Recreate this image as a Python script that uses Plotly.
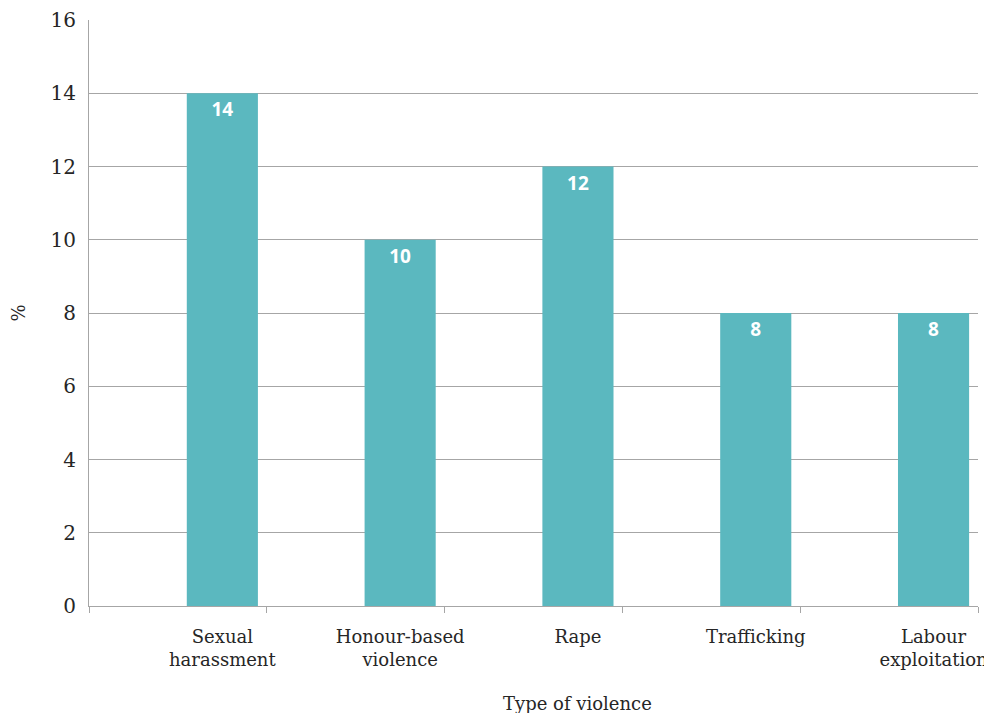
import plotly.graph_objects as go

categories = ["Sexual<br>harassment", "Honour-based<br>violence", "Rape", "Trafficking", "Labour<br>exploitation"]
values = [14, 10, 12, 8, 8]
y_ticks = [0, 2, 4, 6, 8, 10, 12, 14, 16]

positions = [i + 0.25 for i in range(len(categories))]
boundaries = [i - 0.5 for i in range(len(categories) + 1)]

serif = "DejaVu Serif"
grey_text = "#262626"

fig = go.Figure()
fig.add_trace(go.Bar(
    x=positions,
    y=values,
    width=0.4,
    marker=dict(color="#5bb8bf", line=dict(width=0)),
    text=[str(v) for v in values],
    textposition="inside",
    insidetextanchor="end",
    textfont=dict(family="Open Sans", size=19, color="white", weight="bold"),
    textangle=0,
    hoverinfo="skip",
))

fig.update_layout(
    width=984, height=705,
    margin=dict(l=81, r=14, t=12, b=107),
    plot_bgcolor="white", paper_bgcolor="white",
    showlegend=False,
    font=dict(family=serif, size=18, color=grey_text),
    xaxis=dict(
        range=[-0.5, 4.5], automargin=False,
        tickmode="array", tickvals=positions, ticktext=categories,
        ticks="", showgrid=False, zeroline=False,
        showline=True, linecolor="#a6a6a6", linewidth=1,
        ticklabelstandoff=14,
        minor=dict(tickmode="array", tickvals=boundaries, ticks="outside",
                   ticklen=6, tickcolor="#a6a6a6", tickwidth=1, showgrid=False),
        tickfont=dict(family=serif, size=18, color=grey_text),
        fixedrange=True,
    ),
    yaxis=dict(
        range=[0, 16], automargin=False,
        tickmode="array", tickvals=y_ticks,
        showgrid=True, gridcolor="#a6a6a6", gridwidth=1,
        zeroline=False,
        showline=True, linecolor="#a6a6a6", linewidth=1,
        ticks="", ticklabelstandoff=8,
        tickfont=dict(family=serif, size=20, color=grey_text),
        title=dict(text="%", font=dict(family=serif, size=18, color=grey_text), standoff=44),
    ),
)

fig.add_annotation(
    x=2.25, xref="x", y=0, yref="paper", yshift=-97,
    text="Type of violence", showarrow=False,
    font=dict(family=serif, size=18, color=grey_text),
    xanchor="center", yanchor="middle",
)

fig.write_html("out.html")
